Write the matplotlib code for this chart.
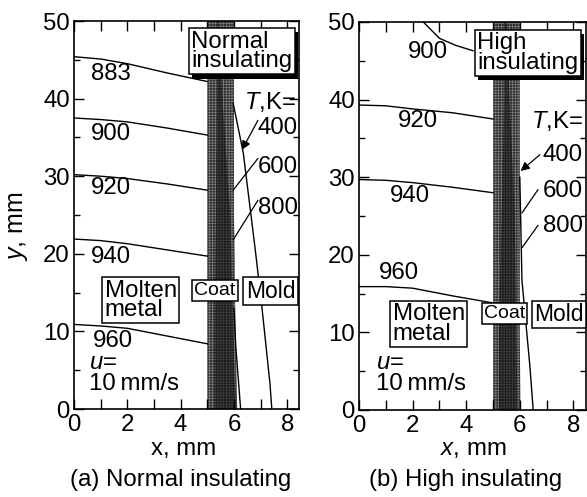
import matplotlib
matplotlib.use("Agg")
import matplotlib.pyplot as plt
import matplotlib.patheffects as pe

plt.rcParams['font.family'] = ['Liberation Sans', 'DejaVu Sans']
plt.rcParams['mathtext.fontset'] = 'custom'
plt.rcParams['mathtext.rm'] = 'Liberation Sans'
plt.rcParams['mathtext.it'] = 'Liberation Sans:italic'
plt.rcParams['hatch.linewidth'] = 0.5

# metal side isotherms, x positions shared
metal_x = [0, 1, 2, 3.5, 5]
a_883 = [45.4, 45.1, 44.5, 43.3, 42.2]
a_900 = [37.5, 37.3, 37.0, 36.2, 35.3]
a_920 = [30.2, 30.0, 29.7, 29.0, 28.2]
a_940 = [21.9, 21.7, 21.3, 20.5, 19.7]
a_960 = [10.9, 10.7, 10.4, 9.4, 8.4]
b_920 = [39.3, 39.2, 38.8, 38.3, 37.5]
b_940 = [29.7, 29.6, 29.3, 28.7, 28.0]
b_960 = [15.9, 15.9, 15.7, 14.7, 13.8]
b_900_x = [2.4, 3.0, 3.6, 4.25]
b_900_y = [50, 47.9, 47.0, 46.3]

# mold side isotherms
a_400_x = [5.97, 6.35, 6.8, 7.05, 7.35, 7.42]
a_400_y = [39.4, 33.0, 20.5, 13.1, 3.3, 0]
a_600_x = [6.0, 6.07, 6.25]
a_600_y = [13, 8, 0]
b_400_x = [6.0, 6.08, 6.26, 6.38, 6.5]
b_400_y = [30, 16.7, 10, 5.5, 0]

# coat band and its dark core
coat_y = [0, 10, 25, 40, 50]
a_coat_right = [6.12, 6.06, 6.0, 6.0, 6.0]
b_coat_right = [6.02, 6.0, 6.0, 6.0, 6.0]
a_core_left = [5.25, 5.25, 5.3, 5.35, 5.35]
a_core_right = [6.05, 5.95, 5.85, 5.55, 5.4]
b_core_left = [5.2, 5.2, 5.3, 5.4, 5.4]
b_core_right = [5.9, 5.85, 5.8, 5.6, 5.5]

W, H = 587, 497
FS = 17.3
fig = plt.figure(figsize=(W / 100, H / 100), dpi=100)
ax1 = fig.add_axes([74 / W, 1 - 409 / H, 225 / W, 388 / H])
ax2 = fig.add_axes([359 / W, 1 - 410 / H, 227 / W, 388 / H])


def style(ax, xmax):
    ax.set_xlim(0, xmax)
    ax.set_ylim(0, 50)
    ax.set_xticks([0, 2, 4, 6, 8])
    ax.set_xticks([1, 3, 5, 7], minor=True)
    ax.set_yticks([0, 10, 20, 30, 40, 50])
    ax.set_yticks([5, 15, 25, 35, 45], minor=True)
    ax.tick_params(axis='both', which='major', direction='in', top=True, right=True,
                   length=7, width=1.0, labelsize=FS, pad=3)
    ax.tick_params(axis='x', which='minor', direction='in', top=True, length=7, width=1.0)
    ax.tick_params(axis='y', which='minor', direction='in', right=True, length=4, width=1.0)
    ax.tick_params(axis='x', which='major', pad=3.5)
    for s in ax.spines.values():
        s.set_linewidth(1.2)


def coat(ax, right, core_l, core_r):
    ax.fill_betweenx(coat_y, [5] * len(coat_y), right, facecolor='#2b2b2b',
                     edgecolor='#808080', hatch='++++++', linewidth=0, zorder=1)
    ax.fill_betweenx(coat_y, core_l, core_r, color='#111111', alpha=0.6, linewidth=0, zorder=1.5)


def box(ax, x, y, s, size=FS, shadow=False, pad=0.1):
    t = ax.text(x, y, s, fontsize=size, ha='center', va='center', ma='left', linespacing=0.85,
                zorder=5, bbox=dict(boxstyle='square,pad=%s' % pad, fc='white', ec='black', lw=1.1))
    if shadow:
        t.get_bbox_patch().set_path_effects([
            pe.SimplePatchShadow(offset=(2.5, -3), shadow_rgbFace='black', alpha=1), pe.Normal()])


def leader(ax, x0, y0, x1, y1, arrow=False):
    style_ = '-|>' if arrow else '-'
    ax.annotate('', xy=(x1, y1), xytext=(x0, y0), zorder=4,
                arrowprops=dict(arrowstyle=style_, color='black', lw=0.9, shrinkA=0, shrinkB=0,
                                mutation_scale=13))


style(ax1, 8.44)
coat(ax1, a_coat_right, a_core_left, a_core_right)
for v in [a_883, a_900, a_920, a_940, a_960]:
    ax1.plot(metal_x, v, color='black', lw=1.0, zorder=2)
ax1.plot(a_400_x, a_400_y, color='black', lw=1.0, zorder=2)
ax1.plot(a_600_x, a_600_y, color='black', lw=1.0, zorder=2)
for x, y, s in [(1.37, 43.2, '883'), (1.37, 35.5, '900'), (1.37, 28.5, '920'),
                (1.37, 19.6, '940'), (1.47, 8.8, '960')]:
    ax1.text(x, y, s, fontsize=FS, ha='center', va='center', zorder=3)
box(ax1, 6.3, 46.1, 'Normal\ninsulating', shadow=True)
box(ax1, 2.5, 14.0, 'Molten\nmetal')
box(ax1, 5.29, 15.3, 'Coat', size=14)
box(ax1, 7.37, 15.2, 'Mold', size=16.5)
ax1.text(0.57, 5.9, r'$\mathit{u}$=', fontsize=FS, va='center')
ax1.text(0.57, 3.2, '10\u2009mm/s', fontsize=FS, va='center')
ax1.text(7.35, 39.6, r'$\mathit{T}$,K=', fontsize=FS, ha='center', va='center')
for y, s in [(36.2, '400'), (31.2, '600'), (25.9, '800')]:
    ax1.text(7.65, y, s, fontsize=FS, ha='center', va='center', zorder=3)
leader(ax1, 6.9, 37.2, 6.3, 33.4, arrow=True)
leader(ax1, 6.9, 32.3, 5.97, 28.2)
leader(ax1, 6.9, 26.9, 5.97, 21.8)

style(ax2, 8.47)
coat(ax2, b_coat_right, b_core_left, b_core_right)
for v in [b_920, b_940, b_960]:
    ax2.plot(metal_x, v, color='black', lw=1.0, zorder=2)
ax2.plot(b_900_x, b_900_y, color='black', lw=1.0, zorder=2)
ax2.plot(b_400_x, b_400_y, color='black', lw=1.0, zorder=2)
for x, y, s in [(2.57, 46.1, '900'), (2.2, 37.2, '920'), (1.9, 27.6, '940'), (1.5, 17.7, '960')]:
    ax2.text(x, y, s, fontsize=FS, ha='center', va='center', zorder=3)
box(ax2, 6.3, 46.0, 'High\ninsulating', shadow=True)
box(ax2, 2.6, 11.1, 'Molten\nmetal')
box(ax2, 5.43, 12.4, 'Coat', size=14)
box(ax2, 7.46, 12.3, 'Mold', size=16.5)
ax2.text(0.63, 6.0, r'$\mathit{u}$=', fontsize=FS, va='center')
ax2.text(0.63, 3.35, '10\u2009mm/s', fontsize=FS, va='center')
ax2.text(7.4, 37.2, r'$\mathit{T}$,K=', fontsize=FS, ha='center', va='center')
for y, s in [(32.9, '400'), (28.2, '600'), (23.7, '800')]:
    ax2.text(7.6, y, s, fontsize=FS, ha='center', va='center', zorder=3)
leader(ax2, 6.75, 32.9, 6.03, 30.8, arrow=True)
leader(ax2, 6.68, 28.4, 6.08, 25.4)
leader(ax2, 6.68, 23.8, 6.08, 20.9)

fig.text(18 / W, 1 - 226 / H, r'$\mathit{y}$, mm', fontsize=18, rotation=90, ha='center', va='center')
fig.text(184 / W, 1 - 449 / H, 'x, mm', fontsize=FS, ha='center', va='center')
fig.text(473 / W, 1 - 449 / H, r'$\mathit{x}$, mm', fontsize=FS, ha='center', va='center')
fig.text(181 / W, 1 - 480 / H, '(a) Normal insulating', fontsize=FS, ha='center', va='center')
fig.text(466 / W, 1 - 480 / H, '(b) High insulating', fontsize=FS, ha='center', va='center')

fig.savefig('out.png', dpi=100)
